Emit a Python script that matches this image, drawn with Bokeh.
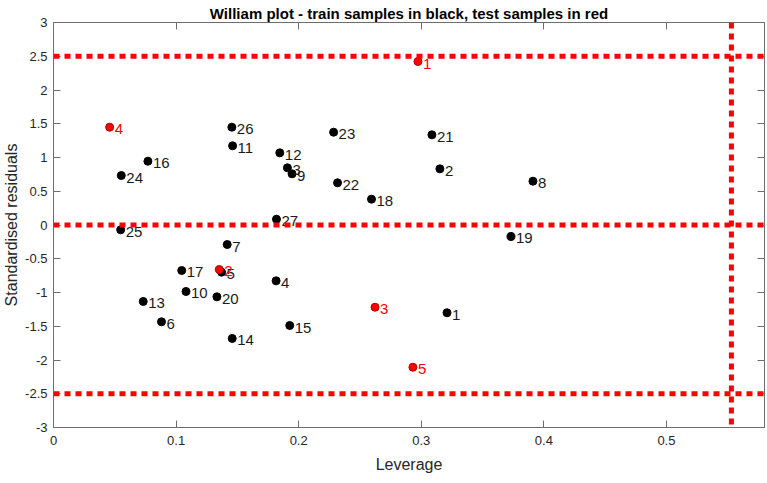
from bokeh.plotting import figure
from bokeh.models import ColumnDataSource, Range1d, Span, LinearAxis, FixedTicker, CustomJSTickFormatter, Title
from bokeh.core.properties import value
from bokeh.embed import file_html
from bokeh.resources import INLINE

# ---- data ----
train_id = [str(i) for i in range(1, 28)]
train_x = [0.321, 0.3152, 0.1908, 0.1816, 0.1371, 0.0881, 0.1417, 0.3911, 0.1946, 0.1081,
           0.1461, 0.1846, 0.0732, 0.1458, 0.1927, 0.077, 0.1046, 0.2594, 0.3732, 0.1333,
           0.3087, 0.2317, 0.2285, 0.0553, 0.0548, 0.1455, 0.1819]
train_y = [-1.30, 0.832, 0.847, -0.827, -0.699, -1.434, -0.289, 0.649, 0.758, -0.985,
           1.173, 1.069, -1.133, -1.681, -1.489, 0.945, -0.674, 0.383, -0.170, -1.064,
           1.336, 0.625, 1.375, 0.733, -0.071, 1.449, 0.086]
test_id = ["1", "2", "3", "4", "5"]
test_x = [0.2973, 0.1352, 0.2623, 0.0458, 0.2932]
test_y = [2.422, -0.659, -1.218, 1.449, -2.107]
resid_limits = [-2.5, 0, 2.5]
h_star = 0.553
x_ticks = [0, 0.1, 0.2, 0.3, 0.4, 0.5]
y_ticks = [-3, -2.5, -2, -1.5, -1, -0.5, 0, 0.5, 1, 1.5, 2, 2.5, 3]

FONT = "Liberation Sans"
AXC = "#6e6e6e"
TXC = "#262626"

p = figure(width=767, height=483, output_backend="svg", toolbar_location=None,
           x_range=Range1d(0, 0.58), y_range=Range1d(-3, 3),
           min_border_left=52, min_border_right=3, min_border_top=22, min_border_bottom=56)
p.title = Title(text="William plot - train samples in black, test samples in red",
                align="center", text_font=FONT, text_font_size="15px", text_font_style="bold",
                text_color="#000000", offset=0, standoff=2)
p.grid.visible = False
p.outline_line_color = AXC
p.background_fill_color = "white"
p.border_fill_color = "white"

fmt = CustomJSTickFormatter(code="return String(tick);")
for ax in p.xaxis + p.yaxis:
    ax.major_tick_in = 7
    ax.major_tick_out = 0
    ax.minor_tick_line_color = None
    ax.axis_line_color = AXC
    ax.major_tick_line_color = AXC
    ax.major_label_text_font = FONT
    ax.major_label_text_font_size = "13px"
    ax.major_label_text_color = TXC
    ax.axis_label_text_font = FONT
    ax.axis_label_text_font_size = "16px"
    ax.axis_label_text_font_style = "normal"
    ax.axis_label_text_color = TXC
    ax.formatter = fmt
p.xaxis.ticker = FixedTicker(ticks=x_ticks)
p.yaxis.ticker = FixedTicker(ticks=y_ticks)
p.xaxis.axis_label = "Leverage"
p.yaxis.axis_label = "Standardised residuals"
p.xaxis.major_label_standoff = 8
p.yaxis.major_label_standoff = 6
p.xaxis.axis_label_standoff = 8
p.yaxis.axis_label_standoff = 2

blank = CustomJSTickFormatter(code="return '';")
for loc, tk in (("right", y_ticks), ("above", x_ticks)):
    ax = LinearAxis(ticker=FixedTicker(ticks=tk), major_tick_in=7, major_tick_out=0,
                    minor_tick_line_color=None, axis_line_color=AXC, major_tick_line_color=AXC,
                    formatter=blank, major_label_standoff=0)
    p.add_layout(ax, loc)

# threshold lines
for v in resid_limits:
    p.add_layout(Span(location=v, dimension="width", line_color="#ff0000",
                      line_width=5, line_dash="6 5"))
p.add_layout(Span(location=h_star, dimension="height", line_color="#ff0000",
                  line_width=5, line_dash="6 5"))

tr = ColumnDataSource(dict(x=train_x, y=train_y, t=train_id))
te = ColumnDataSource(dict(x=test_x, y=test_y, t=test_id))

p.scatter("x", "y", source=tr, size=8, fill_color="black", line_color="black")
p.text("x", "y", text="t", source=tr, x_offset=5, y_offset=2, text_baseline="middle",
       text_font=value(FONT), text_font_size="15px", text_color="#1a1a1a")
p.scatter("x", "y", source=te, size=8, fill_color="#ff0000", line_color="#b00000")
p.text("x", "y", text="t", source=te, x_offset=5, y_offset=2, text_baseline="middle",
       text_font=value(FONT), text_font_size="15px", text_color="#ff0000")

open("out.html", "w").write(file_html(p, INLINE))
